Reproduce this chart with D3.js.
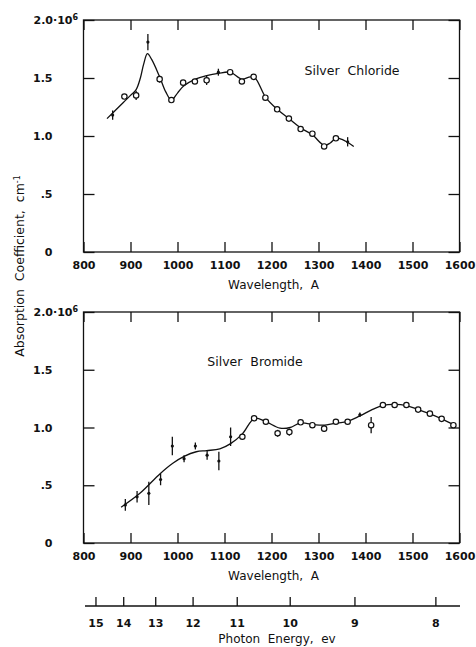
<!DOCTYPE html>
<html>
<head>
<meta charset="utf-8">
<script src="https://cdn.jsdelivr.net/npm/d3@7"></script>
<style>
  body { margin: 0; background: #fff; }
  svg text { font-family: "DejaVu Sans", sans-serif; fill: #111; white-space: pre; }
</style>
</head>
<body>
<svg id="chart" width="476" height="647"></svg>
<script>
// ---- data ----
// Silver Chloride (top panel)
var clWave = [862, 887, 912, 937, 962, 987, 1012, 1037, 1062, 1087, 1112, 1137, 1162, 1187, 1212, 1237, 1262, 1287, 1312, 1337, 1362];
var clValue = [1.18, 1.34, 1.35, 1.81, 1.49, 1.31, 1.46, 1.47, 1.48, 1.55, 1.55, 1.47, 1.51, 1.33, 1.23, 1.15, 1.06, 1.02, 0.91, 0.98, 0.95];
var clErr = [0.04, 0, 0.04, 0.07, 0.03, 0, 0, 0, 0.04, 0.03, 0, 0, 0, 0, 0, 0, 0, 0, 0, 0, 0.04];
var clMark = ["d", "o", "o", "d", "o", "o", "o", "o", "o", "d", "o", "o", "o", "o", "o", "o", "o", "o", "o", "o", "d"];
// drawn smooth curve
var clCurveWave = [850, 875, 900, 912, 921, 928, 936, 945, 962, 975, 987, 1000, 1013, 1038, 1062, 1087, 1112, 1137, 1155, 1165, 1188, 1212, 1237, 1262, 1287, 1312, 1325, 1337, 1350, 1375];
var clCurveValue = [1.15, 1.25, 1.35, 1.40, 1.50, 1.62, 1.71, 1.66, 1.51, 1.38, 1.31, 1.37, 1.43, 1.49, 1.52, 1.54, 1.55, 1.49, 1.51, 1.50, 1.33, 1.23, 1.15, 1.07, 1.01, 0.92, 0.94, 0.98, 0.97, 0.91];

// Silver Bromide (bottom panel)
var brWave = [889, 914, 939, 964, 989, 1014, 1038, 1063, 1088, 1113, 1138, 1163, 1188, 1213, 1238, 1262, 1287, 1312, 1337, 1362, 1388, 1412, 1437, 1462, 1487, 1512, 1537, 1562, 1587];
var brValue = [0.33, 0.40, 0.43, 0.55, 0.84, 0.73, 0.84, 0.76, 0.71, 0.92, 0.92, 1.08, 1.05, 0.95, 0.96, 1.045, 1.02, 0.99, 1.05, 1.05, 1.11, 1.02, 1.195, 1.195, 1.195, 1.155, 1.12, 1.075, 1.02];
var brErr = [0.05, 0.05, 0.1, 0.05, 0.08, 0.03, 0.03, 0.04, 0.08, 0.08, 0.02, 0, 0, 0.03, 0.03, 0, 0, 0.03, 0, 0, 0.02, 0.07, 0.02, 0.02, 0.02, 0, 0, 0, 0];
var brMark = ["d", "d", "d", "d", "d", "d", "d", "d", "d", "d", "o", "o", "o", "o", "o", "o", "o", "o", "o", "o", "d", "o", "o", "o", "o", "o", "o", "o", "o"];
var brCurveWave = [880, 920, 963, 990, 1014, 1040, 1062, 1090, 1113, 1138, 1164, 1188, 1218, 1240, 1262, 1290, 1310, 1340, 1360, 1388, 1412, 1436, 1462, 1487, 1512, 1536, 1562, 1590];
var brCurveValue = [0.31, 0.43, 0.60, 0.69, 0.75, 0.79, 0.80, 0.815, 0.86, 0.945, 1.08, 1.05, 0.995, 1.00, 1.04, 1.025, 1.02, 1.04, 1.05, 1.10, 1.15, 1.19, 1.20, 1.19, 1.155, 1.12, 1.075, 1.02];

// axes
var waveTicks = [800, 900, 1000, 1100, 1200, 1300, 1400, 1500, 1600];
var yTicks = [0, 0.5, 1.0, 1.5, 2.0];
var yTickLabels = ["0", ".5", "1.0", "1.5", "2.0"];
var energyTicks = [15, 14, 13, 12, 11, 10, 9, 8];

var svg = d3.select("#chart");
var left = 83.5, right = 459.5;

var x = d3.scaleLinear().domain([800, 1600]).range([left, right]);

function zip(w, v) {
  return w.map(function (d, i) { return { w: d, v: v[i] }; });
}

function panel(top, bottom, name, nameX, nameY, wave, value, err, mark, cw, cv) {
  var y = d3.scaleLinear().domain([0, 2]).range([bottom, top]);
  var g = svg.append("g");

  // frame
  g.append("rect")
    .attr("x", left).attr("y", top)
    .attr("width", right - left).attr("height", bottom - top)
    .attr("fill", "none").attr("stroke", "#111").attr("stroke-width", 1.3);

  // inward ticks, all four sides
  var xb = g.append("g").attr("transform", "translate(0," + bottom + ")")
    .call(d3.axisBottom(x).tickValues(waveTicks).tickSizeInner(-10).tickSizeOuter(0).tickPadding(9)
      .tickFormat(d3.format("d")));
  var xt = g.append("g").attr("transform", "translate(0," + top + ")")
    .call(d3.axisTop(x).tickValues(waveTicks).tickSizeInner(-10).tickSizeOuter(0).tickFormat(""));
  var yl = g.append("g").attr("transform", "translate(" + left + ",0)")
    .call(d3.axisLeft(y).tickValues(yTicks).tickSizeInner(-11).tickSizeOuter(0).tickPadding(31)
      .tickFormat(function (d, i) { return yTickLabels[i]; }));
  var yr = g.append("g").attr("transform", "translate(" + right + ",0)")
    .call(d3.axisRight(y).tickValues(yTicks).tickSizeInner(-11).tickSizeOuter(0).tickFormat(""));

  [xb, xt, yl, yr].forEach(function (a) {
    a.select(".domain").remove();
    a.selectAll("line").attr("stroke", "#111").attr("stroke-width", 1.3);
    a.selectAll("text").attr("font-size", 11).attr("font-weight", "bold").attr("fill", "#111");
  });

  // "2.0" label gets the power of ten
  yl.selectAll(".tick text").filter(function (d) { return d === 2; })
    .attr("text-anchor", "start").attr("x", -50)
    .text("2.0\u00b710").append("tspan").attr("dy", "-0.45em").attr("font-size", 8).text("6");

  g.append("text")
    .attr("x", (left + right) / 2 + 2).attr("y", bottom + 37)
    .attr("text-anchor", "middle").attr("font-size", 12)
    .text("Wavelength,  A");

  g.append("text")
    .attr("x", nameX).attr("y", nameY)
    .attr("text-anchor", "middle").attr("font-size", 12.5)
    .text(name);

  // smooth curve
  var line = d3.line()
    .x(function (d) { return x(d.w); })
    .y(function (d) { return y(d.v); })
    .curve(d3.curveCatmullRom.alpha(0.5));
  g.append("path")
    .datum(zip(cw, cv))
    .attr("d", line)
    .attr("fill", "none").attr("stroke", "#111").attr("stroke-width", 1.3);

  var pts = wave.map(function (d, i) { return { w: d, v: value[i], e: err[i], m: mark[i] }; });

  // error bars
  g.selectAll(".err").data(pts.filter(function (d) { return d.e > 0; })).enter()
    .append("line")
    .attr("x1", function (d) { return x(d.w); })
    .attr("x2", function (d) { return x(d.w); })
    .attr("y1", function (d) { return y(d.v - d.e); })
    .attr("y2", function (d) { return y(d.v + d.e); })
    .attr("stroke", "#111").attr("stroke-width", 1.3);

  // open circles
  g.selectAll(".ring").data(pts.filter(function (d) { return d.m === "o"; })).enter()
    .append("circle")
    .attr("cx", function (d) { return x(d.w); })
    .attr("cy", function (d) { return y(d.v); })
    .attr("r", 2.7)
    .attr("fill", "#fff").attr("stroke", "#111").attr("stroke-width", 1.2);

  // solid dots
  g.selectAll(".dot").data(pts.filter(function (d) { return d.m === "d"; })).enter()
    .append("circle")
    .attr("cx", function (d) { return x(d.w); })
    .attr("cy", function (d) { return y(d.v); })
    .attr("r", 1.6)
    .attr("fill", "#111");
}

panel(20, 252, "Silver  Chloride", 352, 75, clWave, clValue, clErr, clMark, clCurveWave, clCurveValue);
panel(312, 543, "Silver  Bromide", 255, 366, brWave, brValue, brErr, brMark, brCurveWave, brCurveValue);

// shared y title
svg.append("text")
  .attr("transform", "translate(24,266) rotate(-90)")
  .attr("text-anchor", "middle").attr("font-size", 12.5)
  .text("Absorption  Coefficient,  cm")
  .append("tspan").attr("dy", "-0.5em").attr("font-size", 8).text("-1");

// photon energy axis, placed through wavelength = 12398 / E
var ex = function (e) { return x(12398 / e); };
var eg = svg.append("g").attr("transform", "translate(0,606)");
eg.append("line")
  .attr("x1", 85).attr("x2", 460)
  .attr("stroke", "#111").attr("stroke-width", 1.3);
eg.selectAll(".et").data(energyTicks).enter()
  .append("line")
  .attr("x1", ex).attr("x2", ex)
  .attr("y1", 0).attr("y2", -9)
  .attr("stroke", "#111").attr("stroke-width", 1.3);
eg.selectAll(".el").data(energyTicks).enter()
  .append("text")
  .attr("x", ex).attr("y", 21)
  .attr("text-anchor", "middle").attr("font-size", 11).attr("font-weight", "bold")
  .text(function (d) { return d; });
svg.append("text")
  .attr("x", 277).attr("y", 643)
  .attr("text-anchor", "middle").attr("font-size", 12)
  .text("Photon  Energy,  ev");
</script>
</body>
</html>
